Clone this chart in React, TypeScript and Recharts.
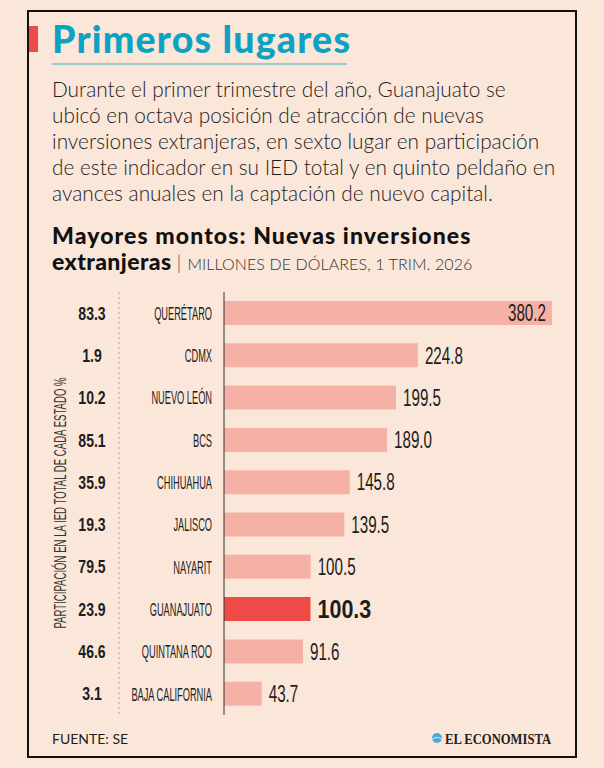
import React from 'react';
import { BarChart, Bar, XAxis, YAxis, Cell, LabelList } from 'recharts';

// Nuevas inversiones extranjeras, millones de dólares, 1 trim. 2026
const states = [
  'QUERÉTARO',
  'CDMX',
  'NUEVO LEÓN',
  'BCS',
  'CHIHUAHUA',
  'JALISCO',
  'NAYARIT',
  'GUANAJUATO',
  'QUINTANA ROO',
  'BAJA CALIFORNIA',
];
const newInvestment = [380.2, 224.8, 199.5, 189.0, 145.8, 139.5, 100.5, 100.3, 91.6, 43.7];
// Participación en la IED total de cada estado (%)
const sharePct = [83.3, 1.9, 10.2, 85.1, 35.9, 19.3, 79.5, 23.9, 46.6, 3.1];
const highlightState = 'GUANAJUATO';

const bodyLines = [
  'Durante el primer trimestre del año, Guanajuato se',
  'ubicó en octava posición de atracción de nuevas',
  'inversiones extranjeras, en sexto lugar en participación',
  'de este indicador en su IED total y en quinto peldaño en',
  'avances anuales en la captación de nuevo capital.',
];

const data = states.map((state, i) => ({
  state,
  value: newInvestment[i],
  share: sharePct[i],
}));
const maxValue = Math.max(...newInvestment);

const BG = '#fbe7d9';
const PINK = '#f6b1a6';
const RED = '#ee4a47';
const TEAL = '#0ca2c3';
const INK = '#1d1d1d';
const COND = '"Liberation Sans", Arial, sans-serif';
const GEO = 'Lato, "Noto Sans", sans-serif';

const StateTick = (props: any) => {
  const { y, payload, index } = props;
  const share = data[index] ? data[index].share : undefined;
  return (
    <g>
      <g transform={`translate(212, ${y})`}>
        <text
          transform="scale(0.5, 1)"
          textAnchor="end"
          dy="0.36em"
          fontFamily={COND}
          fontSize={18.5}
          fill={INK}
        >
          {payload.value}
        </text>
      </g>
      {share !== undefined && (
        <g transform={`translate(92, ${y})`}>
          <text
            transform="scale(0.78, 1)"
            textAnchor="middle"
            dy="0.36em"
            fontFamily={COND}
            fontWeight={700}
            fontSize={18}
            fill={INK}
          >
            {share.toFixed(1)}
          </text>
        </g>
      )}
    </g>
  );
};

const ValueLabel = (props: any) => {
  const { x, y, width, height, value, index } = props;
  const isHighlight = data[index] && data[index].state === highlightState;
  const inside = value === maxValue;
  const cy = y + height / 2;
  const tx = inside ? x + width - 6 : x + width + 7;
  return (
    <g transform={`translate(${tx}, ${cy})`}>
      <text
        transform={isHighlight ? 'scale(0.86, 1)' : 'scale(0.66, 1)'}
        textAnchor={inside ? 'end' : 'start'}
        dy="0.36em"
        fontFamily={COND}
        fontWeight={isHighlight ? 700 : 400}
        fontSize={isHighlight ? 25 : 23}
        fill={INK}
      >
        {Number(value).toFixed(1)}
      </text>
    </g>
  );
};

export default function App() {
  return (
    <div
      style={{
        position: 'absolute',
        left: 0,
        top: 0,
        width: 604,
        height: 768,
        background: BG,
        overflow: 'hidden',
      }}
    >
      <svg
        width={604}
        height={768}
        style={{ position: 'absolute', left: 0, top: 0 }}
      >
        <rect x={28} y={11} width={548} height={746} fill="none" stroke="#111" strokeWidth={2} />
        <rect x={29} y={26} width={9} height={26} fill={RED} />
        <text
          x={52}
          y={53}
          fontFamily={GEO}
          fontWeight={900}
          fontSize={37.5}
          letterSpacing={1.2}
          fill={TEAL}
        >
          Primeros lugares
        </text>
        <rect x={52} y={63.5} width={295} height={1} fill={TEAL} opacity={0.8} />
        {bodyLines.map((line, i) => (
          <text
            key={i}
            x={52}
            y={97 + i * 26}
            fontFamily={GEO}
            fontWeight={300}
            fontSize={20.8}
            fill={INK}
          >
            {line}
          </text>
        ))}
        <text
          x={52}
          y={244}
          fontFamily={GEO}
          fontWeight={900}
          fontSize={23}
          letterSpacing={1.1}
          fill="#111"
        >
          Mayores montos: Nuevas inversiones
        </text>
        <text x={52} y={270} fontFamily={GEO} fill="#111">
          <tspan fontWeight={900} fontSize={23} letterSpacing={0.4}>extranjeras</tspan>
          <tspan fontWeight={300} fontSize={20} dx={5} fill="#555">|</tspan>
          <tspan fontWeight={300} fontSize={16} dx={6} letterSpacing={0.1} fill="#333">
            MILLONES DE DÓLARES, 1 TRIM. 2026
          </tspan>
        </text>
        <line x1={119} y1={292} x2={119} y2={715} stroke="#a9a09a" strokeWidth={1} strokeDasharray="2 3" />
        <g transform="translate(66, 503) rotate(-90)">
          <text transform="scale(0.6, 1)" textAnchor="middle" fontFamily={COND} fontSize={16} fill="#333">
            PARTICIPACIÓN EN LA IED TOTAL DE CADA ESTADO %
          </text>
        </g>
        <text x={52} y={744} fontFamily={GEO} fontWeight={400} fontSize={14} fill={INK}>
          FUENTE: SE
        </text>
        <circle cx={437} cy={738} r={5} fill="#4aa9d6" />
        <path d="M432.5 739 q4.5 -3 9 0" stroke="#d8eef8" strokeWidth={1.2} fill="none" />
        <text
          x={445}
          y={744}
          textLength={106}
          lengthAdjust="spacingAndGlyphs"
          fontFamily='"Liberation Serif", "DejaVu Serif", serif'
          fontWeight={700}
          fontSize={14.5}
          fill="#222"
        >
          EL ECONOMISTA
        </text>
      </svg>
      <div style={{ position: 'absolute', left: 0, top: 0 }}>
        <BarChart
          width={604}
          height={768}
          data={data}
          layout="vertical"
          margin={{ top: 292, right: 35, bottom: 53, left: 0 }}
        >
          <XAxis type="number" domain={[0, 400]} hide />
          <YAxis
            type="category"
            dataKey="state"
            width={224}
            axisLine={{ stroke: '#333', strokeWidth: 1 }}
            tickLine={false}
            interval={0}
            tick={<StateTick />}
          />
          <Bar dataKey="value" barSize={24} isAnimationActive={false}>
            {data.map((d) => (
              <Cell key={d.state} fill={d.state === highlightState ? RED : PINK} />
            ))}
            <LabelList dataKey="value" content={<ValueLabel />} />
          </Bar>
        </BarChart>
      </div>
    </div>
  );
}
